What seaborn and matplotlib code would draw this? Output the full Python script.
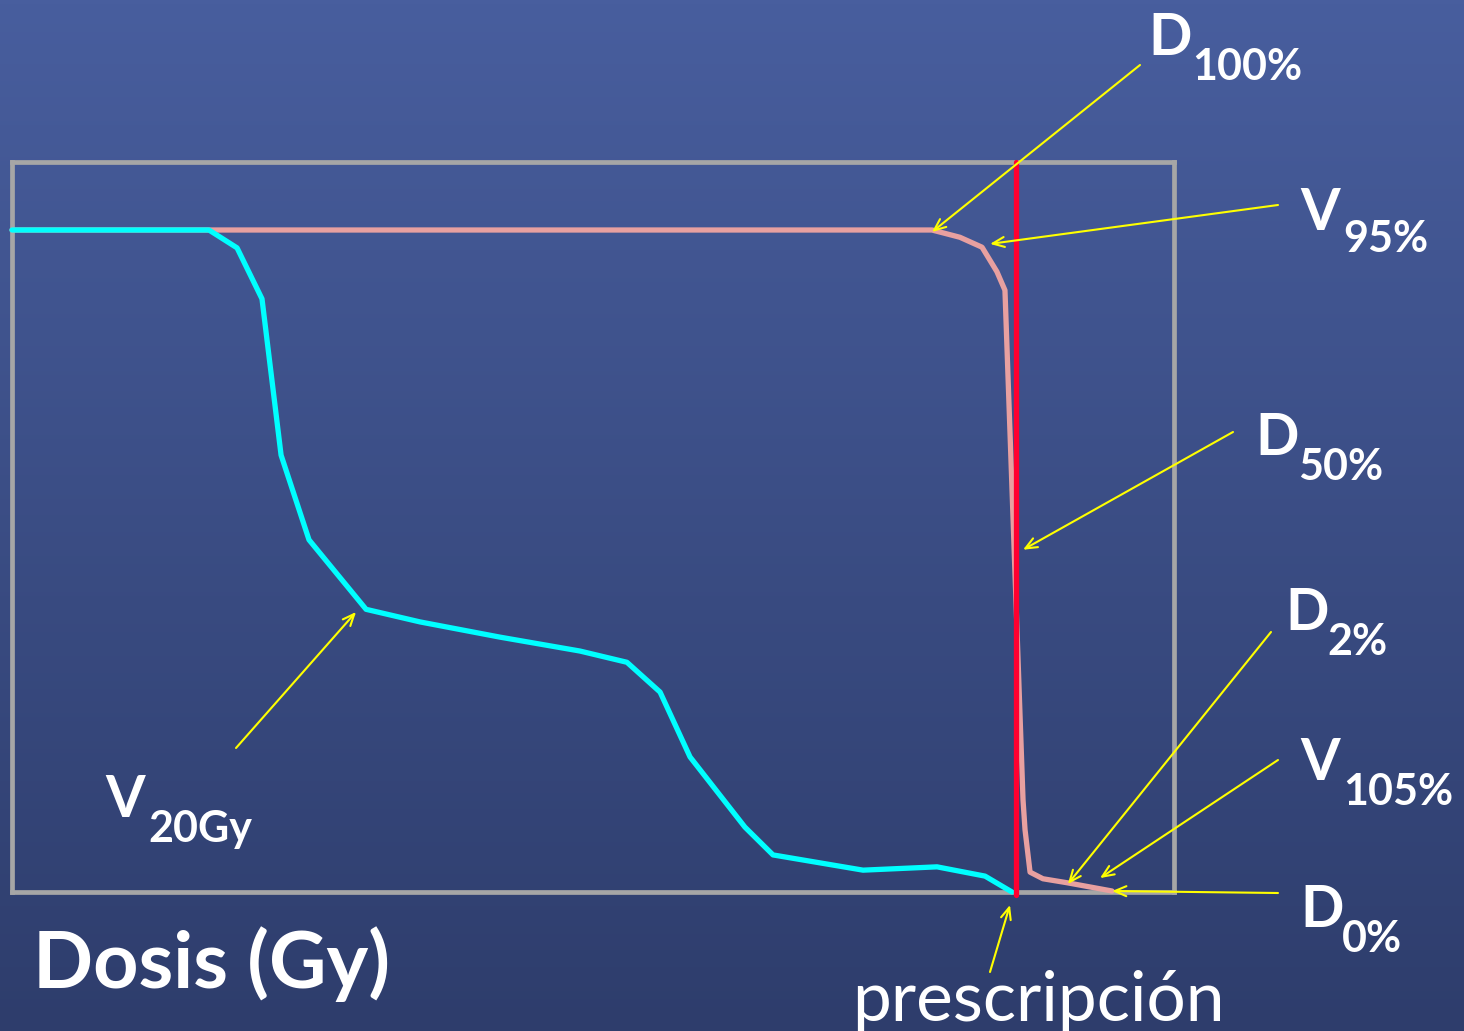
import numpy as np
import pandas as pd
import matplotlib
matplotlib.use("Agg")
import matplotlib.pyplot as plt
import seaborn as sns

# ---- data (dose in Gy, volume in %) ----
oar_dose = [0.0, 11.77, 13.45, 14.94, 16.08, 17.75, 21.16, 24.38, 29.16, 33.94,
            36.75, 38.73, 40.52, 43.80, 45.48, 50.86, 55.28, 58.15, 59.76]
oar_volume = [100.0, 100.0, 97.3, 89.6, 66.0, 53.2, 42.7, 40.8, 38.5, 36.4,
              34.7, 30.2, 20.4, 9.8, 5.6, 3.3, 3.8, 2.4, 0.0]

ptv_dose = [0.0, 11.77, 54.98, 56.65, 57.97, 58.86, 59.34, 60.42, 60.54, 60.84,
            61.61, 63.05, 65.74]
ptv_volume = [100.0, 100.0, 100.0, 98.9, 97.4, 93.7, 90.9, 13.9, 9.4, 3.0,
              2.0, 1.4, 0.15]

prescription_dose = 60.0

# annotation labels: main letter, subscript, target (dose, volume)
ann_main = ["D", "V", "D", "D", "V", "D", "V"]
ann_sub = ["100%", "95%", "50%", "2%", "105%", "0%", "20Gy"]
ann_target_dose = [54.98, 58.45, 60.42, 63.10, 65.02, 65.74, 20.56]
ann_target_vol = [99.7, 97.9, 51.7, 1.2, 2.1, 0.15, 42.3]

W, H = 1464, 1031
sns.set_theme(style="white")
plt.rcParams['font.family'] = ['Lato', 'DejaVu Sans']

fig = plt.figure(figsize=(W / 100, H / 100), dpi=100)

# gradient background
bg = fig.add_axes([0, 0, 1, 1])
top = np.array([72, 94, 158]) / 255
bot = np.array([46, 61, 108]) / 255
t = np.linspace(0, 1, 256)[:, None]
grad = top[None, :] * (1 - t) + bot[None, :] * t
bg.imshow(grad[:, None, :].repeat(2, axis=1), aspect='auto', extent=[0, 1, 0, 1])
bg.set_axis_off()


def px(x, y):
    return x / W, 1 - y / H


# main axes matching the grey box
bx0, by0, bx1, by1 = 12, 162, 1174, 892
ax = fig.add_axes([bx0 / W, 1 - by1 / H, (bx1 - bx0) / W, (by1 - by0) / H])
ax.set_facecolor('none')
ax.set_xlim(0, (bx1 - bx0) / 1004 * 60)
ax.set_ylim(0, (by1 - by0) / 662 * 100)
for s in ax.spines.values():
    s.set_color('#a6a6a6')
    s.set_linewidth(3.4)
    s.set_visible(True)
ax.set_xticks([])
ax.set_yticks([])

ptv = pd.DataFrame({'dose': ptv_dose, 'volume': ptv_volume})
oar = pd.DataFrame({'dose': oar_dose, 'volume': oar_volume})
sns.lineplot(data=ptv, x='dose', y='volume', ax=ax, color='#e8a0a0', lw=3.8,
             sort=False, zorder=3, clip_on=False)
sns.lineplot(data=oar, x='dose', y='volume', ax=ax, color='#00ffff', lw=3.8,
             sort=False, zorder=4, clip_on=False)
ax.axvline(prescription_dose, ymin=-0.004, ymax=1.0, color='#ff0030', lw=3.8,
           zorder=5, clip_on=False)
ax.set_xlabel('')
ax.set_ylabel('')

# annotation text start points (figure pixel coordinates, image-style y)
ann_start = [(1140, 65), (1278, 205), (1233, 432), (1271, 632), (1278, 760),
             (1278, 893), (236, 748)]
main_pos = [(1148, 55), (1300, 230), (1255, 455), (1285, 630), (1300, 780),
            (1300, 927), (105, 817)]
sub_pos = [(1192, 80), (1343, 252), (1298, 480), (1327, 655), (1343, 805),
           (1342, 952), (148, 842)]

arrow_kw = dict(arrowstyle='->,head_length=0.7,head_width=0.3', color='#ffff00',
                lw=1.5, shrinkA=0, shrinkB=0)

for i in range(len(ann_main)):
    sx, sy = ann_start[i]
    ax.annotate('', xy=(ann_target_dose[i], ann_target_vol[i]), xycoords='data',
                xytext=(sx, H - sy), textcoords='figure pixels',
                arrowprops=arrow_kw, annotation_clip=False, zorder=6)
    mx, my = main_pos[i]
    fig.text(*px(mx, my), ann_main[i], color='white', fontsize=41,
             fontweight='bold', ha='left', va='baseline')
    qx, qy = sub_pos[i]
    fig.text(*px(qx, qy), ann_sub[i], color='white', fontsize=31,
             fontweight='bold', ha='left', va='baseline')

# prescription arrow and label
ax.annotate('', xy=(59.64, -1.96), xycoords='data',
            xytext=(990, H - 972), textcoords='figure pixels',
            arrowprops=arrow_kw, annotation_clip=False, zorder=6)
fig.text(*px(852, 1021), 'prescripción', color='white', fontsize=50,
         fontweight='normal', ha='left', va='baseline')

fig.text(*px(33, 988), 'Dosis (Gy)', color='white', fontsize=57,
         fontweight='bold', ha='left', va='baseline')

fig.savefig('out.png', dpi=100)
